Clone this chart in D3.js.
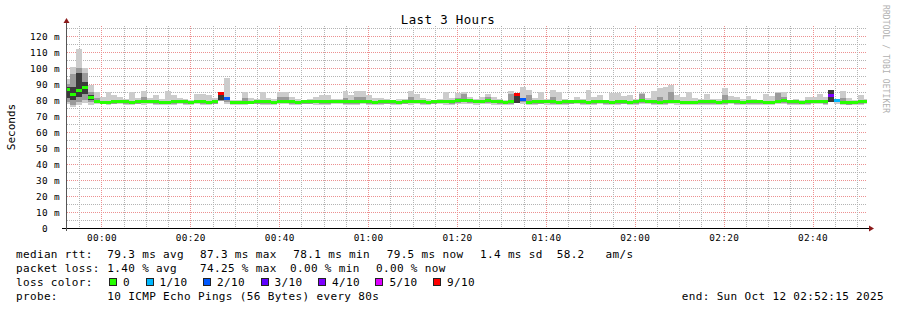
<!DOCTYPE html>
<html>
<head>
<meta charset="utf-8">
<script src="https://cdn.jsdelivr.net/npm/d3@7"></script>
<style>
  body { margin: 0; background: #fff; }
  text { font-family: "DejaVu Sans Mono", monospace; white-space: pre; }
</style>
</head>
<body>
<div class="chart"></div>
<script>
const w = 897;
const h = 310;
const plot = { left: 67, right: 867, top: 26, bottom: 228 };

// time frame: 3 hours, one value every 80 s
const endTime = new Date(2025, 9, 12, 2, 52, 15);
const startTime = new Date(+endTime - 3 * 3600 * 1000);
const stepSec = 80;

// median rtt (ms) per step
const median = [
  86.5, 83.7, 85.8, 87.8, 81.5, 79.2, 78.6, 78.7, 78.9, 79.0,
  78.8, 78.6, 78.9, 79.1, 79.0, 78.8, 78.5, 78.6, 78.9, 79.1,
  78.8, 78.5, 79.2, 78.9, 78.7, 79.0, 84.0, 81.0, 78.2, 78.3,
  78.5, 78.7, 78.9, 79.0, 78.8, 78.5, 79.1, 79.3, 79.0, 78.7,
  78.8, 79.0, 79.2, 79.0, 78.8, 79.1, 79.2, 79.0, 78.8, 79.0,
  79.1, 78.9, 78.6, 78.8, 79.0, 78.9, 78.7, 79.0, 79.2, 79.1,
  78.9, 78.7, 79.0, 79.3, 79.1, 78.8, 79.4, 79.9, 79.6, 79.3,
  79.1, 79.5, 79.2, 78.9, 78.7, 78.9, 83.5, 80.2, 78.6, 78.8,
  79.0, 79.1, 78.9, 78.7, 78.9, 79.0, 79.2, 78.9, 78.7, 78.9,
  79.1, 78.9, 78.6, 78.8, 79.0, 78.7, 78.9, 79.4, 79.2, 78.8,
  78.6, 78.9, 79.3, 79.1, 78.7, 78.4, 78.6, 78.8, 79.0, 78.8,
  78.6, 78.9, 79.1, 78.8, 78.6, 78.9, 79.0, 78.8, 78.5, 78.7,
  79.2, 79.4, 79.0, 78.8, 78.6, 78.8, 79.1, 79.3, 78.9, 83.0,
  79.7, 78.4, 78.2, 78.5, 78.9, 79.2
];

// lost pings out of 10 per step
const loss = [
  0, 0, 0, 0, 0, 0, 0, 0, 0, 0,
  0, 0, 0, 0, 0, 0, 0, 0, 0, 0,
  0, 0, 0, 0, 0, 0, 9, 2, 0, 0,
  0, 0, 0, 0, 0, 0, 0, 0, 0, 0,
  0, 0, 0, 0, 0, 0, 0, 0, 0, 0,
  0, 0, 0, 0, 0, 0, 0, 0, 0, 0,
  0, 0, 0, 0, 0, 0, 0, 0, 0, 0,
  0, 0, 0, 0, 0, 0, 9, 2, 0, 0,
  0, 0, 0, 0, 0, 0, 0, 0, 0, 0,
  0, 0, 0, 0, 0, 0, 0, 0, 0, 0,
  0, 0, 0, 0, 0, 0, 0, 0, 0, 0,
  0, 0, 0, 0, 0, 0, 0, 0, 0, 0,
  0, 0, 0, 0, 0, 0, 0, 0, 0, 4,
  1, 0, 0, 0, 0, 0
];

// smoke: outer band (min..max ping)
const outerLo = [
  77.5, 75.6, 77.0, 78.0, 77.0, 77.4, 77.3, 77.0, 77.2, 77.4,
  77.1, 76.8, 77.2, 77.0, 77.3, 76.9, 76.7, 76.8, 77.1, 77.3,
  77.0, 76.9, 77.3, 77.0, 76.8, 77.2, 79.5, 77.5, 76.9, 77.1,
  77.0, 77.2, 77.4, 77.1, 76.8, 76.9, 77.2, 77.3, 77.0, 77.1,
  77.2, 77.3, 77.0, 76.9, 77.1, 77.4, 77.3, 77.0, 76.8, 77.1,
  77.2, 77.0, 76.8, 77.0, 77.3, 77.1, 77.0, 77.2, 77.0, 77.3,
  77.1, 76.9, 77.2, 77.3, 77.0, 76.8, 77.3, 77.5, 77.4, 77.0,
  77.2, 77.4, 77.1, 76.9, 76.8, 77.0, 78.0, 77.6, 77.0, 77.1,
  77.2, 77.0, 77.1, 76.9, 77.0, 77.2, 77.3, 77.1, 76.9, 77.1,
  77.2, 77.0, 76.8, 77.0, 77.2, 76.9, 77.0, 77.3, 77.2, 76.9,
  76.8, 77.0, 77.2, 77.1, 76.8, 76.6, 76.8, 77.0, 77.1, 77.0,
  76.8, 77.0, 77.2, 76.9, 76.8, 77.0, 77.1, 77.0, 76.7, 76.9,
  77.3, 77.4, 77.1, 77.0, 76.8, 77.0, 77.2, 77.3, 77.0, 78.6,
  77.4, 76.8, 76.6, 76.9, 77.1, 77.3
];
const outerHi = [
  93.0, 100.8, 111.9, 100.0, 89.4, 85.0, 82.0, 85.0, 83.0, 82.0,
  80.5, 85.0, 81.5, 85.6, 81.5, 83.0, 80.5, 85.6, 83.0, 81.5,
  80.5, 80.2, 84.0, 84.0, 83.0, 81.0, 84.5, 94.0, 80.0, 80.3,
  85.0, 81.0, 80.5, 85.0, 81.0, 80.4, 85.0, 85.0, 82.0, 80.5,
  80.3, 80.6, 82.0, 83.0, 83.0, 80.5, 80.8, 85.8, 83.4, 85.8,
  85.8, 83.4, 81.0, 81.0, 80.5, 80.3, 80.4, 80.6, 85.8, 83.9,
  81.0, 80.4, 80.3, 80.8, 85.0, 81.0, 84.4, 84.8, 81.6, 80.4,
  82.0, 84.0, 82.0, 80.4, 80.2, 85.8, 84.0, 88.0, 86.0, 81.0,
  85.0, 80.4, 86.0, 85.0, 80.4, 80.2, 82.0, 80.4, 86.0, 82.0,
  83.1, 80.0, 84.6, 84.6, 82.5, 83.3, 80.4, 84.6, 81.3, 85.8,
  87.3, 88.3, 89.4, 83.1, 82.1, 85.2, 81.0, 80.4, 83.8, 80.4,
  80.4, 87.7, 82.5, 82.1, 80.4, 82.5, 80.4, 80.2, 83.8, 82.5,
  85.2, 85.2, 80.2, 80.4, 80.2, 81.7, 81.7, 83.8, 81.7, 86.2,
  80.5, 85.8, 81.0, 80.0, 83.1, 80.5
];

// smoke: middle band
const innerLo = [
  79.0, 77.0, 78.5, 80.0, 79.0, 78.0, 77.5, 77.6, 77.8, 77.9,
  77.7, 77.5, 77.8, 77.9, 77.9, 77.6, 77.3, 77.4, 77.7, 77.9,
  77.6, 77.3, 78.0, 77.7, 77.5, 77.8, 79.5, 78.5, 77.2, 77.3,
  77.3, 77.6, 77.8, 77.8, 77.6, 77.4, 77.9, 78.1, 77.8, 77.5,
  77.6, 77.8, 78.0, 77.8, 77.6, 77.9, 78.0, 77.8, 77.6, 77.8,
  77.9, 77.7, 77.4, 77.6, 77.8, 77.7, 77.5, 77.8, 78.0, 77.9,
  77.7, 77.5, 77.8, 78.1, 77.9, 77.6, 78.2, 78.6, 78.4, 78.1,
  77.9, 78.3, 78.0, 77.7, 77.5, 77.7, 78.0, 78.8, 77.4, 77.6,
  77.8, 77.9, 77.7, 77.5, 77.7, 77.8, 78.0, 77.7, 77.5, 77.7,
  77.9, 77.7, 77.4, 77.6, 77.8, 77.5, 77.7, 78.2, 78.0, 77.6,
  77.4, 77.7, 78.1, 77.9, 77.5, 77.2, 77.4, 77.6, 77.8, 77.6,
  77.4, 77.7, 77.9, 77.6, 77.4, 77.7, 77.8, 77.6, 77.3, 77.5,
  78.0, 78.2, 77.8, 77.6, 77.4, 77.6, 77.9, 78.1, 77.7, 79.0,
  78.5, 77.2, 77.0, 77.3, 77.7, 78.0
];
const innerHi = [
  90.0, 96.0, 100.0, 97.0, 85.0, 81.0, 79.5, 79.6, 79.8, 79.9,
  79.7, 79.5, 79.8, 82.0, 79.9, 79.7, 79.4, 79.5, 79.8, 80.0,
  79.7, 79.4, 80.1, 79.8, 79.6, 79.9, 84.5, 82.0, 79.1, 79.2,
  81.0, 79.6, 79.8, 79.9, 79.7, 79.4, 82.0, 82.0, 79.9, 79.6,
  79.7, 79.9, 80.1, 79.9, 79.7, 80.0, 80.1, 81.5, 79.7, 82.0,
  82.0, 79.8, 79.5, 79.7, 79.9, 79.8, 79.6, 79.9, 82.0, 80.0,
  79.8, 79.6, 79.9, 80.2, 80.0, 79.7, 81.5, 84.0, 80.5, 80.2,
  80.0, 82.0, 80.1, 79.8, 79.6, 84.0, 84.0, 81.5, 83.0, 79.7,
  79.9, 80.0, 82.0, 79.6, 79.8, 79.9, 80.1, 79.8, 79.6, 79.8,
  80.0, 79.8, 79.5, 79.7, 79.9, 79.6, 79.8, 83.8, 80.1, 79.7,
  82.0, 79.8, 85.0, 80.0, 79.6, 79.3, 79.5, 79.7, 79.9, 79.7,
  79.5, 83.0, 80.0, 79.7, 79.5, 79.8, 79.9, 79.7, 79.4, 79.6,
  84.6, 82.0, 79.9, 79.7, 79.5, 79.7, 80.0, 80.2, 79.8, 86.2,
  80.6, 81.0, 79.1, 79.4, 79.8, 80.1
];

// smoke: dark core band
const coreLo = [
  81.0, 80.0, 82.0, 84.0, 80.0, 78.6, 78.0, 78.1, 78.3, 78.4,
  78.2, 78.0, 78.3, 78.5, 78.4, 78.2, 77.9, 78.0, 78.3, 78.5,
  78.2, 77.9, 78.6, 78.3, 78.1, 78.4, 79.8, 80.4, 77.6, 77.7,
  77.9, 78.1, 78.3, 78.4, 78.2, 77.9, 78.5, 78.7, 78.4, 78.1,
  78.2, 78.4, 78.6, 78.4, 78.2, 78.5, 78.6, 78.4, 78.2, 78.4,
  78.5, 78.3, 78.0, 78.2, 78.4, 78.3, 78.1, 78.4, 78.6, 78.5,
  78.3, 78.1, 78.4, 78.7, 78.5, 78.2, 78.8, 79.3, 79.0, 78.7,
  78.5, 78.9, 78.6, 78.3, 78.1, 78.3, 78.0, 79.6, 78.0, 78.2,
  78.4, 78.5, 78.3, 78.1, 78.3, 78.4, 78.6, 78.3, 78.1, 78.3,
  78.5, 78.3, 78.0, 78.2, 78.4, 78.1, 78.3, 78.8, 78.6, 78.2,
  78.0, 78.3, 78.7, 78.5, 78.1, 77.8, 78.0, 78.2, 78.4, 78.2,
  78.0, 78.3, 78.5, 78.2, 78.0, 78.3, 78.4, 78.2, 77.9, 78.1,
  78.6, 78.8, 78.4, 78.2, 78.0, 78.2, 78.5, 78.7, 78.3, 79.0,
  79.1, 77.8, 77.6, 77.9, 78.3, 78.6
];
const coreHi = [
  88.0, 88.0, 97.0, 91.0, 83.0, 79.6, 79.0, 79.1, 79.3, 79.4,
  79.2, 79.0, 79.3, 79.5, 79.4, 79.2, 78.9, 79.0, 79.3, 79.5,
  79.2, 78.9, 79.6, 79.3, 79.1, 79.4, 84.0, 81.4, 78.6, 78.7,
  78.9, 79.1, 79.3, 79.4, 79.2, 78.9, 79.5, 79.7, 79.4, 79.1,
  79.2, 79.4, 79.6, 79.4, 79.2, 79.5, 79.6, 79.4, 79.2, 79.4,
  79.5, 79.3, 79.0, 79.2, 79.4, 79.3, 79.1, 79.4, 79.6, 79.5,
  79.3, 79.1, 79.4, 79.7, 79.5, 79.2, 79.8, 80.3, 80.0, 79.7,
  79.5, 79.9, 79.6, 79.3, 79.1, 79.3, 83.5, 80.6, 79.0, 79.2,
  79.4, 79.5, 79.3, 79.1, 79.3, 79.4, 79.6, 79.3, 79.1, 79.3,
  79.5, 79.3, 79.0, 79.2, 79.4, 79.1, 79.3, 79.8, 79.6, 79.2,
  79.0, 79.3, 79.7, 79.5, 79.1, 78.8, 79.0, 79.2, 79.4, 79.2,
  79.0, 79.3, 79.5, 79.2, 79.0, 79.3, 79.4, 79.2, 78.9, 79.1,
  79.6, 79.8, 79.4, 79.2, 79.0, 79.2, 79.5, 79.7, 79.3, 86.0,
  80.1, 78.8, 78.6, 78.9, 79.3, 79.6
];

// y axis ticks
const yTickValues = [0, 10, 20, 30, 40, 50, 60, 70, 80, 90, 100, 110, 120];
const yTickLabels = ["0  ", "10 m", "20 m", "30 m", "40 m", "50 m", "60 m", "70 m", "80 m", "90 m", "100 m", "110 m", "120 m"];

// legend
const lossLevels = ["0", "1/10", "2/10", "3/10", "4/10", "5/10", "9/10"];
const lossColors = ["#26ff00", "#00b8ff", "#0059ff", "#5e00ff", "#7e00ff", "#dd00ff", "#ff0000"];
const rttStats = ["79.3 ms avg", "87.3 ms max", "78.1 ms min", "79.5 ms now", "1.4 ms sd  58.2   am/s"];
const lossStats = ["1.40 % avg", "74.25 % max", "0.00 % min", "0.00 % now"];
const probeText = "10 ICMP Echo Pings (56 Bytes) every 80s";
const endText = "end: Sun Oct 12 02:52:15 2025";

function lossColor(n) {
  if (n === 0) return lossColors[0];
  if (n <= 5) return lossColors[n];
  return lossColors[6];
}

const svg = d3
  .select(".chart")
  .append("svg")
  .attr("width", w)
  .attr("height", h)
  .style("display", "block");

svg.append("rect").attr("width", w).attr("height", h).attr("fill", "#fff");

//scales
const xScale = d3.scaleTime().domain([startTime, endTime]).range([plot.left, plot.right]);
const yScale = d3.scaleLinear().domain([0, 126.25]).range([plot.bottom, plot.top]);

svg.append("clipPath").attr("id", "clip")
  .append("rect")
  .attr("x", plot.left).attr("y", plot.top)
  .attr("width", plot.right - plot.left).attr("height", plot.bottom - plot.top);

//grid
const grid = svg.append("g").attr("shape-rendering", "crispEdges");
const minorY = d3.range(5, 126, 5);
grid.selectAll(".hgrid")
  .data(minorY)
  .enter()
  .append("line")
  .attr("x1", plot.left)
  .attr("x2", plot.right)
  .attr("y1", (d) => Math.round(yScale(d)) + 0.5)
  .attr("y2", (d) => Math.round(yScale(d)) + 0.5)
  .attr("stroke", (d) => (d % 10 === 0 ? "#ec9090" : "#b4b4b4"))
  .attr("stroke-dasharray", "1,1");

const minorX = xScale.ticks(d3.timeMinute.every(5));
grid.selectAll(".vgrid")
  .data(minorX)
  .enter()
  .append("line")
  .attr("x1", (d) => Math.round(xScale(d)) + 0.5)
  .attr("x2", (d) => Math.round(xScale(d)) + 0.5)
  .attr("y1", plot.top)
  .attr("y2", plot.bottom)
  .attr("stroke", (d) => (d.getMinutes() % 20 === 0 ? "#ec9090" : "#b4b4b4"))
  .attr("stroke-dasharray", "1,1");

//smoke and median
const steps = median.map((m, i) => ({
  t: new Date(+startTime + i * stepSec * 1000),
  m: m,
  loss: loss[i],
  oLo: outerLo[i], oHi: outerHi[i],
  iLo: innerLo[i], iHi: innerHi[i],
  cLo: coreLo[i], cHi: coreHi[i]
}));
const x0 = (d) => xScale(new Date(+d.t - stepSec * 500));
const x1 = (d) => xScale(new Date(+d.t + stepSec * 500));

const data = svg.append("g").attr("clip-path", "url(#clip)").attr("shape-rendering", "crispEdges");

function band(lo, hi, color) {
  data.append("g")
    .selectAll("rect")
    .data(steps)
    .enter()
    .append("rect")
    .attr("x", (d) => Math.round(x0(d)))
    .attr("width", (d) => Math.round(x1(d)) - Math.round(x0(d)))
    .attr("y", (d) => yScale(d[hi]))
    .attr("height", (d) => yScale(d[lo]) - yScale(d[hi]))
    .attr("fill", color);
}
band("oLo", "oHi", "#cccccc");
band("iLo", "iHi", "#9a9a9a");
band("cLo", "cHi", "#3a3a3a");

data.append("g")
  .selectAll("rect")
  .data(steps)
  .enter()
  .append("rect")
  .attr("x", (d) => Math.round(x0(d)))
  .attr("width", (d) => Math.round(x1(d)) - Math.round(x0(d)))
  .attr("y", (d) => yScale(d.m) - 1.5)
  .attr("height", 3)
  .attr("fill", (d) => lossColor(d.loss));

//axis
const yAxis = d3.axisLeft(yScale)
  .tickValues(yTickValues)
  .tickFormat((d, i) => yTickLabels[i])
  .tickSize(0)
  .tickPadding(7);

const yAxisG = svg.append("g")
  .attr("id", "y-axis")
  .attr("transform", `translate(${plot.left},0)`)
  .call(yAxis);
yAxisG.select(".domain").remove();
yAxisG.selectAll("text")
  .attr("font-family", "DejaVu Sans Mono")
  .attr("font-size", 9.4)
  .attr("letter-spacing", 0.35)
  .attr("fill", "#000");

const xAxis = d3.axisBottom(xScale)
  .ticks(d3.timeMinute.every(20))
  .tickFormat(d3.timeFormat("%H:%M"))
  .tickSize(0)
  .tickPadding(6);

const xAxisG = svg.append("g")
  .attr("id", "x-axis")
  .attr("transform", `translate(0,${plot.bottom})`)
  .call(xAxis);
xAxisG.select(".domain").remove();
xAxisG.selectAll("text")
  .attr("font-family", "DejaVu Sans Mono")
  .attr("font-size", 9.4)
  .attr("letter-spacing", 0.35)
  .attr("fill", "#000");

// axis lines and arrows
svg.append("line")
  .attr("x1", plot.left - 5).attr("x2", plot.right + 2)
  .attr("y1", plot.bottom + 0.5).attr("y2", plot.bottom + 0.5)
  .attr("stroke", "#000").attr("shape-rendering", "crispEdges");
svg.append("line")
  .attr("x1", plot.left - 0.5).attr("x2", plot.left - 0.5)
  .attr("y1", plot.bottom + 3).attr("y2", plot.top - 3)
  .attr("stroke", "#555").attr("shape-rendering", "crispEdges");
svg.append("path")
  .attr("d", `M${plot.right + 2},${plot.bottom - 2.5}L${plot.right + 7},${plot.bottom + 0.5}L${plot.right + 2},${plot.bottom + 3.5}Z`)
  .attr("fill", "#8b1a1a");
svg.append("path")
  .attr("d", `M${plot.left - 3.5},${plot.top - 3}L${plot.left - 0.5},${plot.top - 8}L${plot.left + 2.5},${plot.top - 3}Z`)
  .attr("fill", "#8b1a1a");

//title and labels
svg.append("text")
  .attr("x", 448)
  .attr("y", 24)
  .attr("text-anchor", "middle")
  .attr("font-size", 12.4)
  .attr("letter-spacing", 0.4)
  .text("Last 3 Hours");

svg.append("text")
  .attr("transform", "translate(15,127) rotate(-90)")
  .attr("text-anchor", "middle")
  .attr("font-size", 11)
  .text("Seconds");

svg.append("text")
  .attr("transform", "translate(883,5) rotate(90)")
  .attr("font-size", 8)
  .attr("letter-spacing", 0.1)
  .attr("fill", "#b0b0b0")
  .text("RRDTOOL / TOBI OETIKER");

//legend
const legend = svg.append("g").attr("id", "legend")
  .attr("font-size", 11)
  .attr("letter-spacing", 0.35)
  .attr("fill", "#000");
const charW = 6.97;
const rows = [258, 272, 286, 300];
const rttX = [107.3, 200, 293.3, 386.7, 480];
const lossX = [107.3, 200, 290, 376];

legend.append("text").attr("x", 16).attr("y", rows[0]).text("median rtt:");
legend.selectAll(".rtt")
  .data(rttStats)
  .enter()
  .append("text")
  .attr("x", (d, i) => rttX[i])
  .attr("y", rows[0])
  .attr("xml:space", "preserve")
  .text((d) => d);

legend.append("text").attr("x", 16).attr("y", rows[1]).text("packet loss:");
legend.selectAll(".lossstat")
  .data(lossStats)
  .enter()
  .append("text")
  .attr("x", (d, i) => lossX[i])
  .attr("y", rows[1])
  .text((d) => d);

legend.append("text").attr("x", 16).attr("y", rows[2]).text("loss color:");
let bx = 109;
lossLevels.forEach((lab, i) => {
  legend.append("rect")
    .attr("x", bx + 0.5).attr("y", rows[2] - 7.5)
    .attr("width", 7).attr("height", 7)
    .attr("fill", lossColors[i])
    .attr("stroke", "#222")
    .attr("shape-rendering", "crispEdges");
  legend.append("text").attr("x", bx + 14).attr("y", rows[2]).text(lab);
  bx = bx + 14 + lab.length * charW + 15.6;
});

legend.append("text").attr("x", 16).attr("y", rows[3]).text("probe:");
legend.append("text").attr("x", 107.3).attr("y", rows[3]).text(probeText);
legend.append("text").attr("x", 884).attr("y", rows[3]).attr("text-anchor", "end").text(endText);
</script>
</body>
</html>
